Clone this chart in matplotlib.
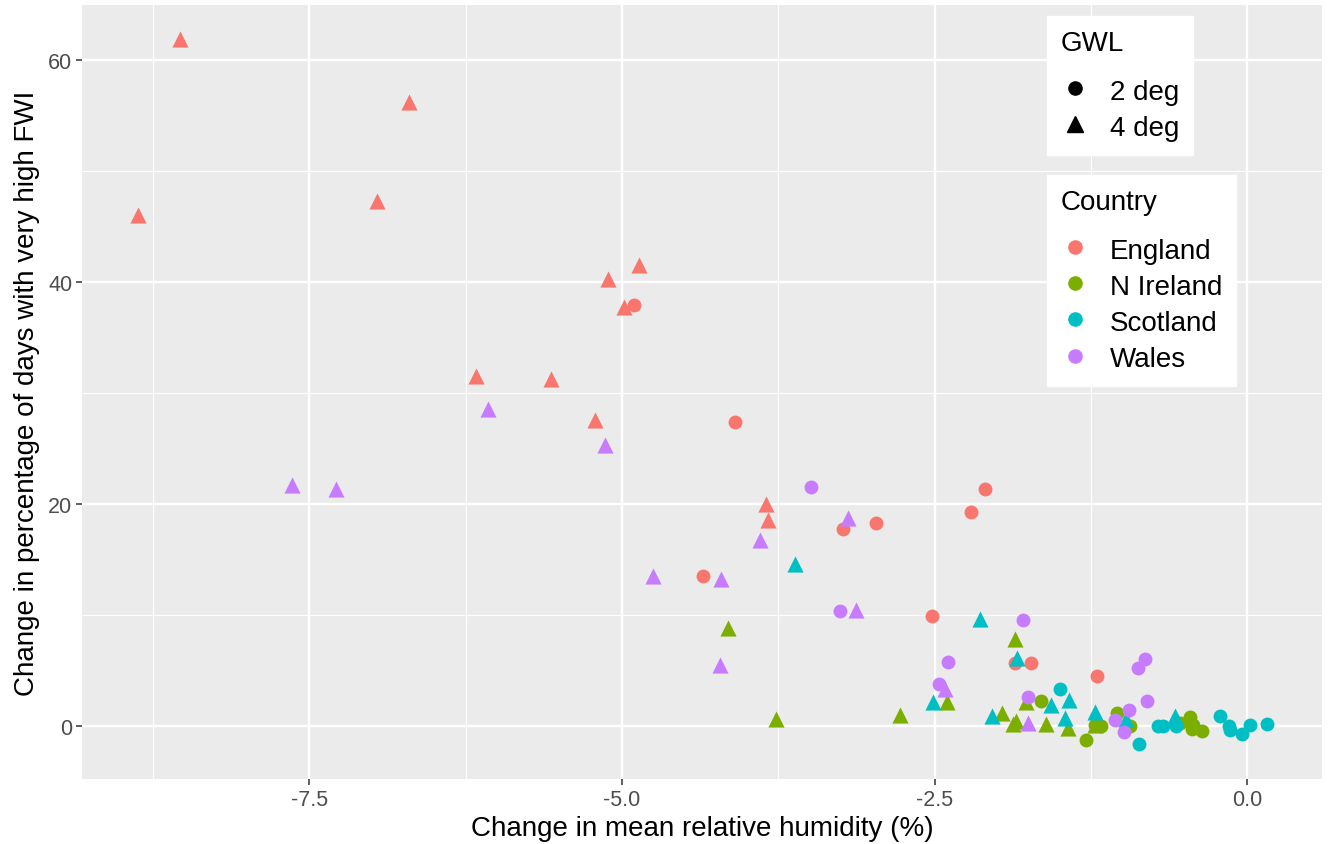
import numpy as np
import matplotlib
matplotlib.use("Agg")
import matplotlib.pyplot as plt
from matplotlib.lines import Line2D

plt.rcParams['font.family'] = ['Liberation Sans', 'DejaVu Sans']

countries = ["England", "N Ireland", "Scotland", "Wales"]
colours = ["#F8766D", "#7CAE00", "#00BFC4", "#C77CFF"]

# England
eng_4_x = [-8.54, -8.87, -6.70, -6.96, -5.11, -4.86, -4.98, -6.17, -5.57, -5.215, -3.85, -3.83]
eng_4_y = [61.95, 46.1, 56.24, 47.3, 40.27, 41.6, 37.8, 31.56, 31.26, 27.6, 20.0, 18.56]
eng_2_x = [-4.90, -4.10, -4.35, -3.23, -2.965, -2.10, -2.21, -2.52, -1.86, -1.73, -1.20]
eng_2_y = [38.0, 27.4, 13.5, 17.8, 18.3, 21.4, 19.3, 9.9, 5.65, 5.7, 4.47]

# N Ireland
nir_4_x = [-1.86, -2.40, -2.78, -1.96, -1.85, -1.87, -1.77, -1.61, -1.435, -4.15, -3.77, -1.22]
nir_4_y = [7.87, 2.2, 0.96, 1.17, 0.48, 0.15, 2.2, 0.15, -0.2, 8.8, 0.66, 0.1]
nir_2_x = [-1.645, -1.22, -1.165, -1.29, -1.04, -0.94, -0.533, -0.454, -0.44, -0.36, -0.43]
nir_2_y = [2.25, 0.06, -0.03, -1.23, 1.2, -0.03, 0.24, 0.78, -0.27, -0.42, 0.09]

# Scotland
sco_4_x = [-3.62, -2.14, -1.84, -2.51, -2.04, -1.566, -1.425, -1.46, -1.22, -0.573, -0.97]
sco_4_y = [14.6, 9.64, 6.1, 2.2, 0.93, 1.9, 2.37, 0.69, 1.29, 0.93, 0.6]
sco_2_x = [-1.50, -0.865, -0.714, -0.675, -0.57, -0.215, -0.143, -0.135, -0.04, 0.021, 0.157]
sco_2_y = [3.3, -1.6, 0.0, 0.0, -0.03, 0.87, 0.03, -0.36, -0.72, 0.12, 0.21]

# Wales
wal_4_x = [-6.07, -5.14, -7.64, -7.29, -3.90, -4.755, -4.21, -3.19, -3.13, -4.22, -2.42, -1.75]
wal_4_y = [28.56, 25.3, 21.7, 21.4, 16.8, 13.5, 13.3, 18.8, 10.48, 5.47, 3.3, 0.27]
wal_2_x = [-3.485, -3.256, -1.79, -2.39, -2.465, -1.75, -0.82, -0.876, -0.80, -0.945, -1.06, -0.985]
wal_2_y = [21.56, 10.33, 9.6, 5.8, 3.75, 2.6, 6.06, 5.25, 2.3, 1.47, 0.57, -0.57]

deg2 = [(eng_2_x, eng_2_y), (nir_2_x, nir_2_y), (sco_2_x, sco_2_y), (wal_2_x, wal_2_y)]
deg4 = [(eng_4_x, eng_4_y), (nir_4_x, nir_4_y), (sco_4_x, sco_4_y), (wal_4_x, wal_4_y)]


def make_legend(fig, handles, labels, title, top_px):
    leg = fig.legend(handles, labels, title=title, loc="upper left",
                     bbox_to_anchor=(1047 / 1330, 1 - top_px / 845), fontsize=20,
                     title_fontsize=20, frameon=True, fancybox=False,
                     edgecolor="white", facecolor="white", framealpha=1,
                     handlelength=1.0, handleheight=1.0, handletextpad=0.75,
                     labelspacing=0.3, borderpad=0.5, alignment="left",
                     borderaxespad=0)
    # extra gap between title and entries, like ggplot
    leg._legend_box.sep = 15
    return leg


def main():
    fig = plt.figure(figsize=(13.3, 8.45), dpi=100)
    ax = fig.add_axes([82 / 1330, 1 - 780 / 845, 1240 / 1330, 774 / 845])
    ax.set_facecolor("#EBEBEB")
    for s in ax.spines.values():
        s.set_visible(False)

    for i in range(4):
        x, y = deg2[i]
        ax.scatter(x, y, s=100, marker="o", color=colours[i], linewidths=0, zorder=3)
        x, y = deg4[i]
        ax.scatter(x, y, s=135, marker="^", color=colours[i], linewidths=0, zorder=3)

    ax.set_xlim(-9.32, 0.6)
    ax.set_ylim(-4.77, 65.0)
    ax.set_xticks([-7.5, -5.0, -2.5, 0.0])
    ax.set_xticklabels(["-7.5", "-5.0", "-2.5", "0.0"])
    ax.set_yticks([0, 20, 40, 60])
    ax.set_xticks([-8.75, -6.25, -3.75, -1.25], minor=True)
    ax.set_yticks([10, 30, 50], minor=True)
    ax.grid(which="major", color="white", linewidth=1.7, zorder=0)
    ax.grid(which="minor", color="white", linewidth=0.85, zorder=0)
    ax.set_axisbelow(True)
    ax.tick_params(which="major", length=4, width=1.1, color="#333333",
                   labelsize=15.5, labelcolor="#4D4D4D", pad=3)
    ax.tick_params(which="minor", length=0)

    ax.set_xlabel("Change in mean relative humidity (%)", fontsize=20, labelpad=4)
    ax.set_ylabel("Change in percentage of days with very high FWI", fontsize=20, labelpad=6)

    h_gwl = [Line2D([], [], marker="o", ls="", color="black", markersize=9.5),
             Line2D([], [], marker="^", ls="", color="black", markersize=11)]
    make_legend(fig, h_gwl, ["2 deg", "4 deg"], "GWL", 17)

    h_cty = [Line2D([], [], marker="o", ls="", color=c, markersize=9.5) for c in colours]
    make_legend(fig, h_cty, countries, "Country", 176)

    fig.savefig("out.png", dpi=100)


if __name__ == "__main__":
    main()
